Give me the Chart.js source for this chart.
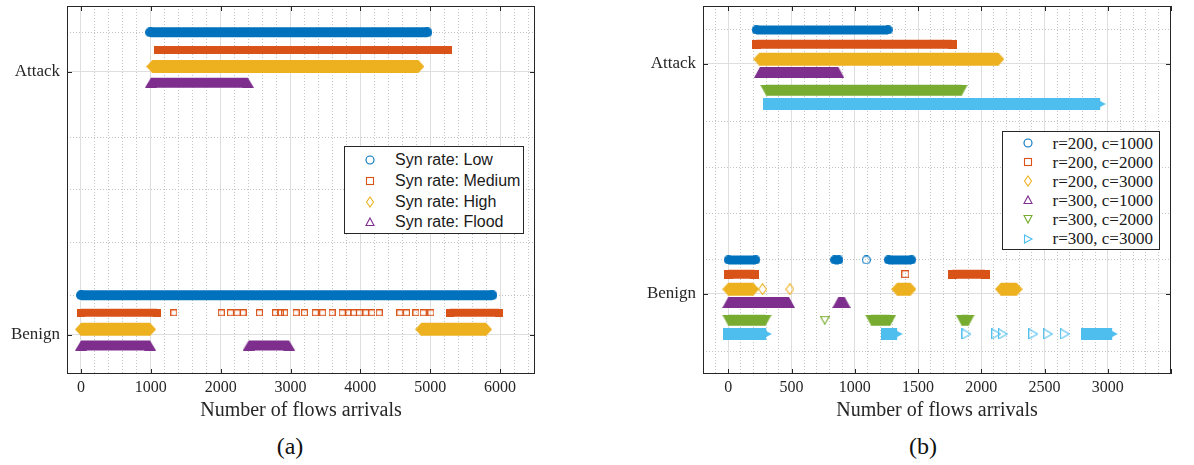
<!DOCTYPE html>
<html><head><meta charset="utf-8">
<script src="https://cdn.jsdelivr.net/npm/chart.js@4.4.1/dist/chart.umd.min.js"></script>
<style>
html,body{margin:0;padding:0;background:#fff;width:1194px;height:465px;overflow:hidden;position:relative;}
canvas{position:absolute;top:0;}
#ca{left:0;}
#cb{left:600px;}
.legend{position:absolute;background:#fff;border:1px solid #262626;box-sizing:border-box;}
.row{position:absolute;left:0;white-space:nowrap;color:#1a1a1a;}
.row svg{position:absolute;left:0;top:0;}
.row span{position:absolute;top:0;}
.cap{position:absolute;font-family:"Liberation Serif",serif;font-size:24px;color:#111;transform:translate(-50%,-50%);}
</style></head>
<body>
<canvas id="ca" width="600" height="423"></canvas>
<canvas id="cb" width="594" height="423"></canvas>
<div id="legA" class="legend" style="left:344px;top:146px;width:180px;height:88px;"></div>
<div id="legB" class="legend" style="left:1002px;top:131px;width:158px;height:119px;"></div>
<div class="cap" style="left:290px;top:446px;">(a)</div>
<div class="cap" style="left:923px;top:446px;">(b)</div>
<script>
// ================= DATA =================
const classLabels = ['Benign', 'Attack'];          // y = 0 and y = 1
const xLabel = 'Number of flows arrivals';

// ----- (a) -----
const seriesNamesA = ['Syn rate: Low', 'Syn rate: Medium', 'Syn rate: High', 'Syn rate: Flood'];
const xTicksA = [0, 1000, 2000, 3000, 4000, 5000, 6000];
const yOffsetsA = [0.15, 0.083, 0.02, -0.042];
// dense runs of markers: [first, last] flow arrival index
const lowBenignRunsA = [[0, 5890]];
const lowAttackRunsA = [[990, 4960]];
const mediumBenignRunsA = [[0, 1090], [5280, 5990]];
const mediumBenignSingleA = [1330, 2010, 2140, 2235, 2320, 2555, 2785, 2855, 2915, 3080, 3200, 3355, 3460, 3595, 3740, 3835, 3900, 3985, 4080, 4165, 4270, 4565, 4660, 4795, 4900, 5010];
const mediumAttackRunsA = [[1100, 5250]];
const highBenignRunsA = [[0, 990], [4870, 5800]];
const highAttackRunsA = [[1020, 4830]];
const floodBenignRunsA = [[0, 990], [2400, 2980]];
const floodAttackRunsA = [[1000, 2390]];

// ----- (b) -----
const seriesNamesB = ['r=200, c=1000', 'r=200, c=2000', 'r=200, c=3000', 'r=300, c=1000', 'r=300, c=2000', 'r=300, c=3000'];
const xTicksB = [0, 500, 1000, 1500, 2000, 2500, 3000, 3500];
const yOffsetsB = [0.146, 0.084, 0.019, -0.039, -0.116, -0.176];
const r200c1000BenignRuns = [[0, 218], [840, 875], [1265, 1450]];
const r200c1000BenignSingle = [1091];
const r200c1000AttackRuns = [[220, 1265]];
const r200c2000BenignRuns = [[0, 208], [1770, 2030]];
const r200c2000BenignSingle = [1399];
const r200c2000AttackRuns = [[220, 1770]];
const r200c3000BenignRuns = [[0, 197], [1335, 1440], [2155, 2280]];
const r200c3000BenignSingle = [271, 487];
const r200c3000AttackRuns = [[245, 2135]];
const r300c1000BenignRuns = [[0, 480], [870, 920]];
const r300c1000BenignSingle = [];
const r300c1000AttackRuns = [[250, 870]];
const r300c2000BenignRuns = [[0, 295], [1130, 1280], [1845, 1900]];
const r300c2000BenignSingle = [763];
const r300c2000AttackRuns = [[300, 1845]];
const r300c3000BenignRuns = [[0, 300], [1250, 1335], [2830, 3035]];
const r300c3000BenignSingle = [1883, 2118, 2171, 2411, 2527, 2661];
const r300c3000AttackRuns = [[315, 2940]];

// ================= STYLE =================
const C = {blue:'#0072BD', orange:'#D95319', yellow:'#EDB120', purple:'#7E2F8E', green:'#77AC30', cyan:'#4DBEEE'};
const styleA = [
  {shape:'circle', color:C.blue,   w:10, h:10, hw:9,  hh:9},
  {shape:'square', color:C.orange, w:8,  h:8,  hw:7,  hh:7},
  {shape:'diamond',color:C.yellow, w:12, h:13, hw:9,  hh:12},
  {shape:'up',     color:C.purple, w:12, h:10, hw:11, hh:10},
];
const styleB = [
  {shape:'circle', color:C.blue,   w:9,  h:9,  hw:9,  hh:9},
  {shape:'square', color:C.orange, w:9,  h:9,  hw:8,  hh:8},
  {shape:'diamond',color:C.yellow, w:12, h:13, hw:9,  hh:12},
  {shape:'up',     color:C.purple, w:12, h:11, hw:11, hh:10},
  {shape:'down',   color:C.green,  w:12, h:11, hw:10, hh:9},
  {shape:'right',  color:C.cyan,   w:11, h:12, hw:10, hh:11},
];

function markerImg(shape, w, h, color, filled) {
  const c = document.createElement('canvas');
  c.width = Math.round(w); c.height = Math.round(h);
  const g = c.getContext('2d');
  const W = c.width, H = c.height, i = filled ? 0 : 0.6;
  g.beginPath();
  if (shape === 'circle') g.ellipse(W/2, H/2, W/2 - i, H/2 - i, 0, 0, Math.PI*2);
  else if (shape === 'square' || shape === 'rect') g.rect(i, i, W-2*i, H-2*i);
  else if (shape === 'diamond') { g.moveTo(W/2, i); g.lineTo(W-i, H/2); g.lineTo(W/2, H-i); g.lineTo(i, H/2); }
  else if (shape === 'up') { g.moveTo(W/2, i); g.lineTo(W-i, H-i); g.lineTo(i, H-i); }
  else if (shape === 'down') { g.moveTo(i, i); g.lineTo(W-i, i); g.lineTo(W/2, H-i); }
  else if (shape === 'right') { g.moveTo(i, i); g.lineTo(W-i, H/2); g.lineTo(i, H-i); }
  g.closePath();
  if (filled) { g.fillStyle = color; g.fill(); }
  else { g.strokeStyle = color; g.lineWidth = 1.1; g.stroke(); }
  return c;
}

function runsToPoints(runs, yv) {
  const pts = [];
  runs.forEach(([s, e]) => { pts.push({x:s, y:yv}, {x:e, y:yv}, {x:e, y:null}); });
  return pts;
}

function buildDatasets(series, styles, offsets) {
  const ds = [];
  series.forEach((s, k) => {
    const st = styles[k];
    const startImg = markerImg(st.shape === 'right' ? 'rect' : st.shape, st.w, st.h, st.color, true);
    const endImg = markerImg(st.shape, st.w, st.h, st.color, true);
    const data = runsToPoints(s.benign, 0 + offsets[k]).concat(runsToPoints(s.attack, 1 + offsets[k]));
    ds.push({
      label: s.name, data,
      borderColor: st.color, backgroundColor: st.color,
      borderWidth: st.h, borderCapStyle: 'butt', spanGaps: false, tension: 0,
      pointRadius: 6, pointHoverRadius: 6,
      pointStyle: c => (c.dataIndex % 3 === 0 ? startImg : endImg),
    });
    if (s.single && s.single.length) {
      const hollow = markerImg(st.shape, st.hw, st.hh, st.color, false);
      ds.push({
        label: s.name + ' (single)',
        data: s.single.map(x => ({x, y: 0 + offsets[k]})),
        showLine: false, borderColor: st.color, backgroundColor: 'rgba(0,0,0,0)',
        pointRadius: 6, pointStyle: hollow,
      });
    }
  });
  return ds;
}

const framePlugin = {
  id: 'frame',
  afterDatasetsDraw(chart, args, opts) {
    const {ctx, chartArea: a} = chart;
    const xs = chart.scales.x, ys = chart.scales.y;
    ctx.save();
    ctx.strokeStyle = '#262626'; ctx.lineWidth = 1;
    ctx.beginPath();
    opts.xMajor.forEach(v => {
      const px = Math.round(xs.getPixelForValue(v)) + 0.5;
      ctx.moveTo(px, a.bottom); ctx.lineTo(px, a.bottom - 5);
      ctx.moveTo(px, a.top); ctx.lineTo(px, a.top + 5);
    });
    opts.yMajor.forEach(v => {
      const py = Math.round(ys.getPixelForValue(v)) + 0.5;
      ctx.moveTo(a.left, py); ctx.lineTo(a.left + 5, py);
      ctx.moveTo(a.right, py); ctx.lineTo(a.right - 5, py);
    });
    ctx.stroke();
    ctx.strokeRect(a.left + 0.5, a.top + 0.5, a.right - a.left - 1, a.bottom - a.top - 1);
    ctx.restore();
  }
};

const serif = 'Liberation Serif';
function makeChart(id, cfg) {
  const isMajorX = v => cfg.xTicks.includes(v);
  const isMajorY = v => v === 0 || v === 1;
  return new Chart(document.getElementById(id), {
    type: 'line',
    data: {datasets: cfg.datasets},
    options: {
      responsive: false, animation: false, events: [], devicePixelRatio: 1,
      layout: {autoPadding: false, padding: {left: 0, right: cfg.padRight, top: 6, bottom: 0}},
      plugins: {legend: {display: false}, tooltip: {enabled: false}, title: {display: false},
                frame: {xMajor: cfg.xTicks, yMajor: [0, 1]}},
      scales: {
        x: {
          type: 'linear', min: cfg.xMin, max: cfg.xMax,
          afterBuildTicks: s => { s.ticks = cfg.xGrid.map(v => ({value: v})); },
          afterFit: s => { s.height = 49; s.paddingLeft = 0; s.paddingRight = 0; },
          ticks: {autoSkip: false, maxRotation: 0, minRotation: 0, padding: 4, color: '#262626',
                  font: {family: serif, size: 16},
                  callback: v => (isMajorX(v) ? String(v) : '')},
          grid: {drawTicks: false, lineWidth: 1,
                 color: c => (c.tick && isMajorX(c.tick.value) ? '#dedede' : '#c4c4c4')},
          border: {display: false, dash: c => (c.tick && !isMajorX(c.tick.value) ? [1, 2] : [])},
          title: {display: true, text: xLabel, color: '#262626', font: {family: serif, size: 20}, padding: 0}
        },
        y: {
          type: 'linear', min: cfg.yMin, max: cfg.yMax,
          afterBuildTicks: s => { s.ticks = cfg.yGrid.map(v => ({value: v})); },
          afterFit: s => { s.width = cfg.yWidth; s.paddingTop = 0; s.paddingBottom = 0; },
          ticks: {autoSkip: false, padding: 7, color: '#262626', font: {family: serif, size: 17},
                  callback: v => (v === 0 ? classLabels[0] : v === 1 ? classLabels[1] : '')},
          grid: {drawTicks: false, lineWidth: 1,
                 color: c => (c.tick && isMajorY(c.tick.value) ? '#dedede' : '#c4c4c4')},
          border: {display: false, dash: c => (c.tick && !isMajorY(c.tick.value) ? [1, 2] : [])}
        }
      }
    },
    plugins: [framePlugin]
  });
}

// ---- assemble (a) ----
const seriesA = [
  {name: seriesNamesA[0], benign: lowBenignRunsA, attack: lowAttackRunsA},
  {name: seriesNamesA[1], benign: mediumBenignRunsA, attack: mediumAttackRunsA, single: mediumBenignSingleA},
  {name: seriesNamesA[2], benign: highBenignRunsA, attack: highAttackRunsA},
  {name: seriesNamesA[3], benign: floodBenignRunsA, attack: floodAttackRunsA},
];
const xGridA = []; for (let v = -200; v <= 6400; v += 200) xGridA.push(v);
makeChart('ca', {
  datasets: buildDatasets(seriesA, styleA, yOffsetsA),
  xTicks: xTicksA, xGrid: xGridA, xMin: -200, xMax: 6500,
  yGrid: [0, 0.15, 0.35, 0.55, 0.75, 1, 1.15], yMin: -0.15, yMax: 1.25,
  yWidth: 67, padRight: 65
});

// ---- assemble (b) ----
const seriesB = [
  {name: seriesNamesB[0], benign: r200c1000BenignRuns, attack: r200c1000AttackRuns, single: r200c1000BenignSingle},
  {name: seriesNamesB[1], benign: r200c2000BenignRuns, attack: r200c2000AttackRuns, single: r200c2000BenignSingle},
  {name: seriesNamesB[2], benign: r200c3000BenignRuns, attack: r200c3000AttackRuns, single: r200c3000BenignSingle},
  {name: seriesNamesB[3], benign: r300c1000BenignRuns, attack: r300c1000AttackRuns, single: r300c1000BenignSingle},
  {name: seriesNamesB[4], benign: r300c2000BenignRuns, attack: r300c2000AttackRuns, single: r300c2000BenignSingle},
  {name: seriesNamesB[5], benign: r300c3000BenignRuns, attack: r300c3000AttackRuns, single: r300c3000BenignSingle},
];
const xGridB = []; for (let v = -200; v <= 3400; v += 100) xGridB.push(v);
makeChart('cb', {
  datasets: buildDatasets(seriesB, styleB, yOffsetsB),
  xTicks: xTicksB, xGrid: xGridB, xMin: -200, xMax: 3500,
  yGrid: [-0.25, 0, 0.15, 0.35, 0.55, 0.75, 1, 1.15], yMin: -0.35, yMax: 1.25,
  yWidth: 103, padRight: 23
});

// ---- legends (HTML text) ----
function svgMarker(shape, color) {
  let el;
  if (shape === 'circle') el = '<circle cx="7" cy="7" r="4" />';
  else if (shape === 'square') el = '<rect x="3.5" y="3.5" width="7" height="7" />';
  else if (shape === 'diamond') el = '<polygon points="7,2 10.5,7 7,12 3.5,7" />';
  else if (shape === 'up') el = '<polygon points="7,3 11,10.5 3,10.5" />';
  else if (shape === 'down') el = '<polygon points="3,3.5 11,3.5 7,11" />';
  else el = '<polygon points="3.5,3 11,7 3.5,11" />';
  return '<svg width="14" height="14" viewBox="0 0 14 14" fill="none" stroke="' + color + '" stroke-width="1.1">' + el + '</svg>';
}
function buildLegend(id, names, styles, rows) {
  const box = document.getElementById(id);
  names.forEach((n, k) => {
    const r = document.createElement('div');
    r.className = 'row';
    r.style.top = (rows.first + k * rows.step - rows.lh / 2) + 'px';
    r.style.height = rows.lh + 'px';
    r.style.width = '100%';
    r.style.font = rows.font;
    r.style.lineHeight = rows.lh + 'px';
    r.innerHTML = svgMarker(styles[k].shape, styles[k].color).replace('<svg ', '<svg style="left:' + (rows.mx - 7) + 'px;top:' + (rows.lh / 2 - 7) + 'px" ')
      + '<span style="left:' + rows.tx + 'px">' + n + '</span>';
    box.appendChild(r);
  });
}
buildLegend('legA', seriesNamesA, styleA, {first: 13, step: 20.8, lh: 20, mx: 25, tx: 50, font: '16px "Liberation Sans", Arial, sans-serif'});
buildLegend('legB', seriesNamesB, styleB, {first: 11, step: 19.1, lh: 19, mx: 24.5, tx: 49.5, font: '17px "Liberation Serif", serif'});
</script>
</body></html>
